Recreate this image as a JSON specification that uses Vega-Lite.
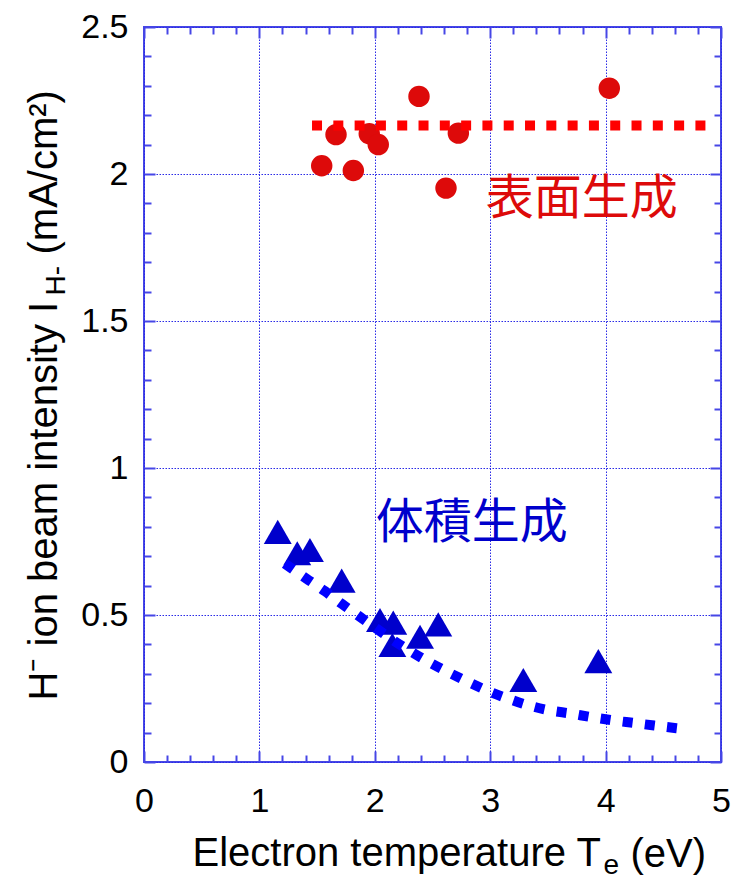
{
  "$schema": "https://vega.github.io/schema/vega-lite/v6.json",
  "width": 577,
  "height": 735,
  "autosize": {"type": "none"},
  "padding": {"left": 144, "top": 27, "right": 14, "bottom": 116},
  "background": "white",
  "config": {
    "view": {"stroke": "#4646e6", "strokeWidth": 2},
    "axis": {
      "domain": false,
      "labelFont": "Liberation Sans",
      "titleFont": "Liberation Sans",
      "labelColor": "black",
      "titleColor": "black",
      "labelFontSize": 34,
      "titleFontSize": 40,
      "titleFontWeight": "normal",
      "tickColor": "#4646e6",
      "tickWidth": 2,
      "labelFlush": false,
      "labelOverlap": false,
      "gridColor": "#2a2ae6",
      "gridDash": [1.5, 1.5],
      "gridWidth": 1
    }
  },
  "datasets": {
    "surface": [
      {"te": 1.54, "ih": 2.028},
      {"te": 1.664, "ih": 2.134},
      {"te": 1.814, "ih": 2.012},
      {"te": 1.952, "ih": 2.137},
      {"te": 2.03, "ih": 2.1},
      {"te": 2.383, "ih": 2.264},
      {"te": 2.617, "ih": 1.952},
      {"te": 2.724, "ih": 2.139},
      {"te": 4.032, "ih": 2.292}
    ],
    "surfaceFit": [
      {"te": 1.456, "ih": 2.165},
      {"te": 4.885, "ih": 2.165}
    ],
    "volume": [
      {"te": 1.159, "ih": 0.783},
      {"te": 1.328, "ih": 0.71},
      {"te": 1.438, "ih": 0.721},
      {"te": 1.713, "ih": 0.617},
      {"te": 2.045, "ih": 0.483},
      {"te": 2.16, "ih": 0.474},
      {"te": 2.152, "ih": 0.398},
      {"te": 2.392, "ih": 0.426},
      {"te": 2.55, "ih": 0.468},
      {"te": 3.287, "ih": 0.279},
      {"te": 3.937, "ih": 0.343}
    ],
    "volumeFit": [
      {"te": 1.22, "ih": 0.675},
      {"te": 1.41, "ih": 0.623},
      {"te": 1.568, "ih": 0.581},
      {"te": 1.713, "ih": 0.538},
      {"te": 1.863, "ih": 0.496},
      {"te": 2.002, "ih": 0.457},
      {"te": 2.16, "ih": 0.414},
      {"te": 2.32, "ih": 0.374},
      {"te": 2.478, "ih": 0.338},
      {"te": 2.643, "ih": 0.304},
      {"te": 2.81, "ih": 0.272},
      {"te": 2.984, "ih": 0.241},
      {"te": 3.157, "ih": 0.215},
      {"te": 3.33, "ih": 0.193},
      {"te": 3.51, "ih": 0.176},
      {"te": 3.692, "ih": 0.165},
      {"te": 3.874, "ih": 0.153},
      {"te": 4.058, "ih": 0.142},
      {"te": 4.24, "ih": 0.133},
      {"te": 4.422, "ih": 0.124},
      {"te": 4.655, "ih": 0.113}
    ],
    "labels": [
      {"te": 3.793, "ih": 1.913, "text": "表面生成", "kind": "surface"},
      {"te": 2.84, "ih": 0.808, "text": "体積生成", "kind": "volume"}
    ]
  },
  "layer": [
    {
      "data": {"name": "surface"},
      "mark": {"type": "point", "shape": "circle", "filled": true, "size": 460, "color": "#dd0a0a", "opacity": 1, "strokeWidth": 0},
      "encoding": {
        "x": {
          "field": "te", "type": "quantitative",
          "scale": {"domain": [0, 5], "nice": false, "zero": false},
          "axis": {
            "orient": "bottom", "values": [0, 1, 2, 3, 4, 5], "format": "~g",
            "tickSize": -11, "labelPadding": 33, "grid": true,
            "title": "Electron temperature T", "titleAlign": "left", "titleBaseline": "alphabetic",
            "titleX": 48, "titleY": 103
          }
        },
        "y": {
          "field": "ih", "type": "quantitative",
          "scale": {"domain": [0, 2.5], "nice": false, "zero": false},
          "axis": {
            "orient": "left", "values": [0, 0.5, 1, 1.5, 2, 2.5], "format": "~g",
            "tickSize": -11, "labelPadding": 27, "grid": true,
            "title": "H⁻ ion beam intensity I", "titleAngle": -90, "titleAlign": "left", "titleBaseline": "alphabetic",
            "titleX": -88, "titleY": 673
          }
        }
      }
    },
    {
      "data": {"name": "volume"},
      "mark": {"type": "point", "shape": "triangle-up", "filled": true, "size": 780, "color": "#0000cc", "opacity": 1, "strokeWidth": 0},
      "encoding": {
        "x": {
          "field": "te", "type": "quantitative",
          "scale": {"domain": [0, 5], "nice": false, "zero": false},
          "axis": {
            "orient": "bottom", "values": [0.2, 0.4, 0.6, 0.8, 1.2, 1.4, 1.6, 1.8, 2.2, 2.4, 2.6, 2.8, 3.2, 3.4, 3.6, 3.8, 4.2, 4.4, 4.6, 4.8],
            "tickSize": -7, "labels": false, "grid": false,
            "title": "e", "titleFontSize": 28, "titleAlign": "left", "titleBaseline": "alphabetic",
            "titleX": 459, "titleY": 111
          }
        },
        "y": {
          "field": "ih", "type": "quantitative",
          "scale": {"domain": [0, 2.5], "nice": false, "zero": false},
          "axis": {
            "orient": "left", "values": [0.1, 0.2, 0.3, 0.4, 0.6, 0.7, 0.8, 0.9, 1.1, 1.2, 1.3, 1.4, 1.6, 1.7, 1.8, 1.9, 2.1, 2.2, 2.3, 2.4],
            "tickSize": -7, "labels": false, "grid": false,
            "title": "H-", "titleFontSize": 28, "titleAngle": -90, "titleAlign": "left", "titleBaseline": "alphabetic",
            "titleX": -80, "titleY": 268
          }
        }
      }
    },
    {
      "data": {"name": "surfaceFit"},
      "mark": {"type": "line", "color": "#ff0000", "strokeWidth": 10, "strokeDash": [10, 11.3], "strokeCap": "butt"},
      "encoding": {
        "x": {
          "field": "te", "type": "quantitative",
          "scale": {"domain": [0, 5], "nice": false, "zero": false},
          "axis": {
            "orient": "top", "values": [0, 1, 2, 3, 4, 5],
            "tickSize": -11, "labels": false, "grid": false,
            "title": "(eV)", "titleAlign": "left", "titleBaseline": "alphabetic",
            "titleX": 486, "titleY": 839
          }
        },
        "y": {
          "field": "ih", "type": "quantitative",
          "scale": {"domain": [0, 2.5], "nice": false, "zero": false},
          "axis": {
            "orient": "right", "values": [0, 0.5, 1, 1.5, 2, 2.5],
            "tickSize": -11, "labels": false, "grid": false,
            "title": "(mA/cm²)", "titleAngle": -90, "titleAlign": "left", "titleBaseline": "alphabetic",
            "titleX": -665, "titleY": 227
          }
        }
      }
    },
    {
      "data": {"name": "volumeFit"},
      "mark": {"type": "line", "color": "#0000ff", "strokeWidth": 10, "strokeDash": [10, 12.3], "strokeCap": "butt", "interpolate": "monotone"},
      "encoding": {
        "x": {
          "field": "te", "type": "quantitative",
          "scale": {"domain": [0, 5], "nice": false, "zero": false},
          "axis": {
            "orient": "top", "values": [0.2, 0.4, 0.6, 0.8, 1.2, 1.4, 1.6, 1.8, 2.2, 2.4, 2.6, 2.8, 3.2, 3.4, 3.6, 3.8, 4.2, 4.4, 4.6, 4.8],
            "tickSize": -7, "labels": false, "grid": false, "title": null
          }
        },
        "y": {
          "field": "ih", "type": "quantitative",
          "scale": {"domain": [0, 2.5], "nice": false, "zero": false},
          "axis": {
            "orient": "right", "values": [0.1, 0.2, 0.3, 0.4, 0.6, 0.7, 0.8, 0.9, 1.1, 1.2, 1.3, 1.4, 1.6, 1.7, 1.8, 1.9, 2.1, 2.2, 2.3, 2.4],
            "tickSize": -7, "labels": false, "grid": false, "title": null
          }
        }
      }
    },
    {
      "data": {"name": "labels"},
      "mark": {"type": "text", "font": "Noto Sans CJK JP", "fontSize": 48, "align": "center", "baseline": "middle"},
      "encoding": {
        "x": {"field": "te", "type": "quantitative", "scale": {"domain": [0, 5], "nice": false, "zero": false}, "axis": null},
        "y": {"field": "ih", "type": "quantitative", "scale": {"domain": [0, 2.5], "nice": false, "zero": false}, "axis": null},
        "text": {"field": "text"},
        "color": {
          "field": "kind", "type": "nominal",
          "scale": {"domain": ["surface", "volume"], "range": ["#dd0a0a", "#0000cc"]},
          "legend": null
        }
      }
    }
  ],
  "resolve": {"axis": {"x": "independent", "y": "independent"}}
}
